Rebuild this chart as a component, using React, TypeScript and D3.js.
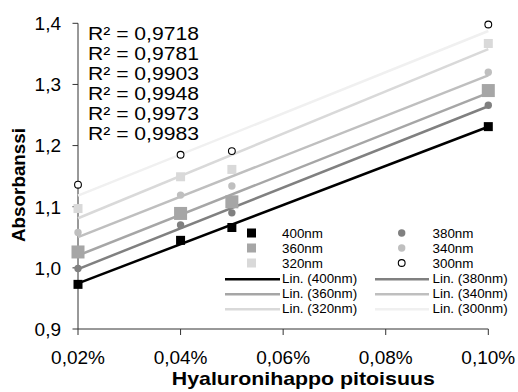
import React from "react";
import * as d3 from "d3";

// Hyaluronic acid concentration (%), measured absorbance per wavelength
const concentrations = [0.02, 0.04, 0.05, 0.1];
const abs400 = [0.973, 1.045, 1.066, 1.231];
const abs380 = [0.999, 1.07, 1.09, 1.266];
const abs360 = [1.026, 1.089, 1.108, 1.29];
const abs340 = [1.058, 1.119, 1.134, 1.32];
const abs320 = [1.097, 1.149, 1.161, 1.367];
const abs300 = [1.136, 1.185, 1.191, 1.398];

const xTicks = [0.02, 0.04, 0.06, 0.08, 0.1];
const yTicks = [0.9, 1.0, 1.1, 1.2, 1.3, 1.4];
const rSquaredLabels = ["0,9718", "0,9781", "0,9903", "0,9948", "0,9973", "0,9983"];

type Marker = "square" | "bigSquare" | "circle" | "open";
interface Series {
  name: string;
  values: number[];
  marker: Marker;
  fill: string;
  line: string;
}

const series: Series[] = [
  { name: "400nm", values: abs400, marker: "square", fill: "#000000", line: "#000000" },
  { name: "380nm", values: abs380, marker: "circle", fill: "#808080", line: "#808080" },
  { name: "360nm", values: abs360, marker: "bigSquare", fill: "#a6a6a6", line: "#a6a6a6" },
  { name: "340nm", values: abs340, marker: "circle", fill: "#bfbfbf", line: "#bfbfbf" },
  { name: "320nm", values: abs320, marker: "square", fill: "#d9d9d9", line: "#d9d9d9" },
  { name: "300nm", values: abs300, marker: "open", fill: "#ffffff", line: "#f0f0f0" },
];

const FONT = "'Liberation Sans', Arial, Helvetica, sans-serif";

// least-squares straight line through the points
function linearFit(xs: number[], ys: number[]) {
  const mx = d3.mean(xs) as number;
  const my = d3.mean(ys) as number;
  let sxy = 0;
  let sxx = 0;
  xs.forEach((x, i) => {
    sxy += (x - mx) * (ys[i] - my);
    sxx += (x - mx) * (x - mx);
  });
  const slope = sxy / sxx;
  const intercept = my - slope * mx;
  return (x: number) => intercept + slope * x;
}

function MarkerShape({ kind, fill, cx, cy, legend }: { kind: Marker; fill: string; cx: number; cy: number; legend?: boolean }) {
  if (kind === "square" || kind === "bigSquare") {
    const s = kind === "bigSquare" && !legend ? 13 : 9;
    return <rect x={cx - s / 2} y={cy - s / 2} width={s} height={s} fill={fill} />;
  }
  if (kind === "circle") {
    return <circle cx={cx} cy={cy} r={3.7} fill={fill} />;
  }
  return <circle cx={cx} cy={cy} r={3.4} fill="#ffffff" stroke="#000000" strokeWidth={1.1} />;
}

export default function App() {
  const width = 518;
  const height = 392;
  const x = d3.scaleLinear().domain([0.02, 0.1]).range([78, 488.3]);
  const y = d3.scaleLinear().domain([0.9, 1.4]).range([329, 23.3]);

  const fmtX = (v: number) => d3.format(".2f")(v).replace(".", ",") + "%";
  const fmtY = (v: number) => d3.format(".1f")(v).replace(".", ",");

  const rBaselines = [39.5, 59.5, 79.5, 99.5, 119.5, 140];

  // legend layout: two columns, six rows
  const legendBase = [238.3, 253.3, 268.3, 283.3, 298.3, 313.3];
  const col1 = [series[0], series[2], series[4]];
  const col2 = [series[1], series[3], series[5]];

  return (
    <svg
      width={width}
      height={height}
      style={{ position: "absolute", left: 0, top: 0, background: "#ffffff" }}
      fontFamily={FONT}
    >
      <rect width={width} height={height} fill="#ffffff" />

      {/* axes */}
      <line x1={x(0.02)} x2={x(0.02)} y1={y(1.4)} y2={y(0.9)} stroke="#333" strokeWidth={1} />
      <line x1={x(0.02)} x2={x(0.1)} y1={y(0.9)} y2={y(0.9)} stroke="#333" strokeWidth={1} />
      {yTicks.map((t) => (
        <g key={"y" + t}>
          <line x1={x(0.02) - 5.5} x2={x(0.02)} y1={y(t)} y2={y(t)} stroke="#333" />
          <text x={61} y={y(t) + 6.8} fontSize={19} textAnchor="end" fill="#000">
            {fmtY(t)}
          </text>
        </g>
      ))}
      {xTicks.map((t) => (
        <g key={"x" + t}>
          <line x1={x(t)} x2={x(t)} y1={y(0.9)} y2={y(0.9) + 6} stroke="#333" />
          <text x={x(t)} y={363.5} fontSize={19} textAnchor="middle" fill="#000">
            {fmtX(t)}
          </text>
        </g>
      ))}

      {/* axis titles */}
      <text
        transform={`translate(25,185) rotate(-90)`}
        fontSize={18.5}
        fontWeight="bold"
        textAnchor="middle"
        textLength={114}
        lengthAdjust="spacingAndGlyphs"
      >
        Absorbanssi
      </text>
      <text
        x={303.3}
        y={385}
        fontSize={19}
        fontWeight="bold"
        textAnchor="middle"
        textLength={263}
        lengthAdjust="spacingAndGlyphs"
      >
        Hyaluronihappo pitoisuus
      </text>

      {/* linear trendlines */}
      {series.map((s) => {
        const f = linearFit(concentrations, s.values);
        const path = d3
          .line<number>()
          .x((d) => x(d))
          .y((d) => y(f(d)))([0.02, 0.1]);
        return <path key={"t" + s.name} d={path || ""} stroke={s.line} strokeWidth={2.5} fill="none" />;
      })}

      {/* data markers */}
      {series.map((s) =>
        s.values.map((v, i) => (
          <MarkerShape key={s.name + i} kind={s.marker} fill={s.fill} cx={x(concentrations[i])} cy={y(v)} />
        ))
      )}

      {/* coefficient of determination labels */}
      {rSquaredLabels.map((r, i) => (
        <text
          key={"r" + i}
          x={88}
          y={rBaselines[i]}
          fontSize={17.5}
          textLength={111}
          lengthAdjust="spacingAndGlyphs"
          fill="#000"
        >
          {`R² = ${r}`}
        </text>
      ))}

      {/* legend */}
      {col1.map((s, i) => (
        <g key={"l1" + s.name}>
          <MarkerShape kind={s.marker} fill={s.fill} cx={251.5} cy={legendBase[i] - 5.3} legend />
          <text x={282} y={legendBase[i]} fontSize={13.4}>
            {s.name}
          </text>
          <path d={`M225,${legendBase[i + 3] - 4}L280,${legendBase[i + 3] - 4}`} stroke={s.line} strokeWidth={2.5} />
          <text x={282} y={legendBase[i + 3]} fontSize={13.4}>
            {`Lin. (${s.name})`}
          </text>
        </g>
      ))}
      {col2.map((s, i) => (
        <g key={"l2" + s.name}>
          <MarkerShape kind={s.marker} fill={s.fill} cx={401.7} cy={legendBase[i] - 5.3} legend />
          <text x={432.5} y={legendBase[i]} fontSize={13.4}>
            {s.name}
          </text>
          <path d={`M375,${legendBase[i + 3] - 4}L429,${legendBase[i + 3] - 4}`} stroke={s.line} strokeWidth={2.5} />
          <text x={432.5} y={legendBase[i + 3]} fontSize={13.4}>
            {`Lin. (${s.name})`}
          </text>
        </g>
      ))}
    </svg>
  );
}
